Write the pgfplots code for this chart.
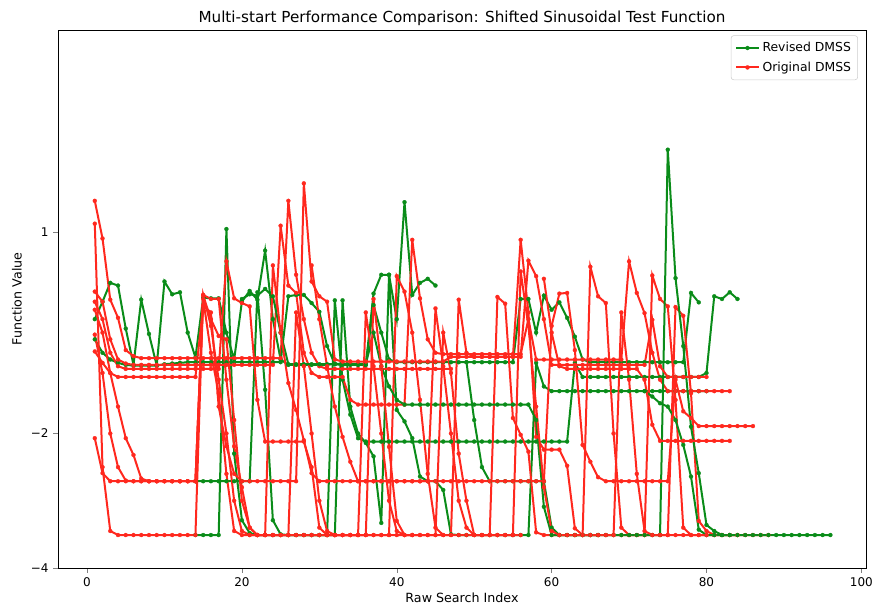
\documentclass[border=0pt]{standalone}
\usepackage{pgfplots}
\pgfplotsset{compat=1.18}
\usepackage{fontspec}
\setmainfont{DejaVu Sans}
\definecolor{mygreen}{RGB}{10,140,25}
\definecolor{myred}{RGB}{255,40,30}
\pgfplotsset{
  gstyle/.style={color=mygreen, line width=1.5pt, mark=*, mark size=1.5pt, mark options={solid, line width=0.2pt}},
  rstyle/.style={color=myred, line width=1.5pt, mark=*, mark size=1.5pt, mark options={solid, line width=0.2pt}},
}
\begin{document}
\begin{tikzpicture}
\begin{axis}[
  scale only axis, width=606pt, height=403.5pt,
  xmin=-3.75, xmax=100.6, ymin=-4, ymax=4,
  xtick={0,20,40,60,80,100}, ytick={-4,-2,1},
  yticklabels={−4,−2,1},
  tick align=outside, xtick pos=left, ytick pos=left,
  major tick length=3.5pt,
  tick label style={font=\fontsize{9}{10}\selectfont},
  /pgf/number format/assume math mode=true,
  title={Multi-start Performance Comparison: Shifted Sinusoidal Test Function},
  title style={font=\fontsize{11.4}{13}\selectfont, yshift=-6pt},
  xlabel={Raw Search Index}, ylabel={Function Value},
  label style={font=\fontsize{9.5}{11}\selectfont},
  xlabel style={yshift=2pt}, ylabel style={yshift=0pt},
  legend style={at={(0.99,0.99)}, anchor=north east, draw=black!20, rounded corners=2pt, font=\fontsize{9.3}{11}\selectfont, inner sep=3pt, row sep=2pt},
  legend cell align=left,
  axis line style={line width=0.6pt},
]
% ---------- Revised DMSS (green), lower tracks drawn first ----------
\addplot[gstyle, forget plot] coordinates {(14,-3.51)(15,-3.51)(16,-3.51)(17,-3.51)(18,1.04)(19,-2.3)(20,-3.29)(21,-3.48)(22,-3.51)(23,-3.51)(24,-3.51)(25,-3.51)(26,-3.51)(27,-3.51)(28,-3.51)(29,-3.51)(30,-3.51)(31,-3.51)(32,-0.02)(33,-1.2)(34,-1.72)(35,-2.07)(36,-2.12)(37,-2.12)(38,-2.12)(39,-2.12)(40,-2.12)(41,-2.12)(42,-2.12)(43,-2.12)(44,-2.12)(45,-2.12)(46,-2.12)(47,-2.12)(48,-2.12)(49,-2.12)(50,-2.12)(51,-2.12)(52,-2.12)(53,-2.12)(54,-2.12)(55,-2.12)(56,-2.12)(57,-2.12)(58,-2.12)(59,-2.12)(60,-2.12)(61,-2.12)(62,-2.12)(63,-0.95)(64,-1.16)(65,-1.16)(66,-1.16)(67,-1.16)(68,-1.16)(69,-1.16)(70,-1.16)(71,-1.16)(72,-1.16)(73,-1.16)(74,-1.16)(75,-1.16)(76,-1.16)(77,-1.16)(78,-1.16)(79,-1.16)(80,-1.1)(81,0.04)(82,0.0)(83,0.1)(84,0.0)};

\addplot[gstyle, forget plot] coordinates {(14,-2.71)(15,-2.71)(16,-2.71)(17,-2.71)(18,-2.71)(19,-2.71)(20,-2.71)(21,-2.71)(22,0.1)(23,-1.35)(24,-3.29)(25,-3.5)(26,-3.51)(27,-3.51)(28,-3.51)(29,-3.51)(30,-3.51)(31,-3.51)(32,-3.51)(33,-0.02)(34,-1.6)(35,-2.0)(36,-2.14)(37,-2.34)(38,-3.33)(39,0.36)(40,-1.65)(41,-1.82)(42,-2.07)(43,-2.64)(44,-2.71)(45,-2.71)(46,-2.84)(47,-3.5)(48,-3.51)(49,-3.51)(50,-3.51)(51,-3.51)(52,-3.51)(53,-3.51)(54,-3.51)(55,-3.51)(56,-3.51)(57,-3.51)(58,-0.95)(59,-1.3)(60,-1.37)(61,-1.37)(62,-1.37)(63,-1.37)(64,-1.37)(65,-1.37)(66,-1.37)(67,-1.37)(68,-1.37)(69,-1.37)(70,-1.37)(71,-1.37)(72,-1.37)(73,-1.37)(74,-1.37)(75,-1.37)(76,-1.37)(77,-1.37)(78,-1.37)(79,-1.37)(80,-1.37)};

\addplot[gstyle] coordinates {(1,-0.3)(2,-0.04)(3,0.24)(4,0.2)(5,-0.44)(6,-0.98)(7,-0.01)(8,-0.52)(9,-0.99)(10,0.26)(11,0.07)(12,0.1)(13,-0.5)(14,-0.87)(15,0.02)(16,0.01)(17,0.01)(18,-0.5)(19,-0.9)(20,-0.04)(21,0.12)(22,-0.01)(23,0.72)(24,-0.3)(25,-0.9)(26,-0.98)(27,-0.98)(28,-0.98)(29,-0.98)(30,-0.98)(31,-0.98)(32,-0.96)(33,-0.97)(34,-0.97)(35,-0.98)(36,-0.98)(37,0.08)(38,0.36)(39,0.36)(40,-0.3)(41,1.44)(42,0.06)(43,0.24)(44,0.3)(45,0.2)};
\addlegendentry{Revised DMSS}
% ---------- Original DMSS (red) ----------
\addplot[rstyle] coordinates {(1,1.46)(2,0.9)(3,-0.01)(4,-0.28)(5,-0.76)(6,-0.85)(7,-0.88)(8,-0.88)(9,-0.88)(10,-0.88)(11,-0.88)(12,-0.88)(13,-0.88)(14,-0.88)(15,-0.88)(16,-0.88)(17,-0.88)(18,-0.88)(19,-0.88)(20,-0.88)(21,-0.88)(22,-0.88)(23,-0.88)(24,-0.88)(25,-0.88)(26,1.46)(27,0.36)(28,-0.3)(29,-0.8)(30,-1.0)(31,-1.04)(32,-1.04)(33,-1.04)(34,-1.04)(35,-1.04)(36,-1.04)(37,-1.04)(38,-1.04)(39,-1.04)(40,-1.04)(41,-1.04)(42,-1.04)(43,-1.04)(44,-1.04)(45,-1.04)(46,-1.04)(47,-1.04)};
\addlegendentry{Original DMSS}

\addplot[gstyle, forget plot] coordinates {(1,-0.6)(2,-0.8)(3,-0.9)(4,-0.95)(5,-0.98)(6,-0.99)(7,-0.99)(8,-0.99)(9,-0.99)(10,-0.97)(11,-0.96)(12,-0.95)(13,-0.94)(14,-0.94)(15,-0.94)(16,-0.94)(17,-0.94)(18,-0.94)(19,-0.94)(20,-0.94)(21,-0.94)(22,-0.94)(23,-0.94)(24,-0.94)(25,-0.94)(26,0.04)(27,0.06)(28,0.06)(29,-0.06)(30,-0.19)(31,-0.7)(32,-0.97)(33,-0.98)(34,-0.98)(35,-0.98)(36,-0.98)(37,-0.09)(38,-0.5)(39,-0.9)(40,-0.94)(41,-0.94)(42,-0.94)(43,-0.94)(44,-0.94)(45,-0.94)(46,-0.94)(47,-0.94)(48,-0.94)(49,-0.94)(50,-0.94)(51,-0.94)(52,-0.94)(53,-0.94)(54,-0.94)(55,-0.94)(56,0.0)(57,0.0)(58,-0.5)(59,0.05)(60,-0.16)(61,-0.05)(62,-0.28)(63,-0.56)(64,-0.9)(65,-0.94)(66,-0.94)(67,-0.94)(68,-0.94)(69,-0.94)(70,-0.94)(71,-0.94)(72,-0.94)(73,-0.94)(74,-0.94)(75,-0.94)(76,-0.94)(77,-0.94)(78,0.09)(79,-0.05)};

\addplot[rstyle, forget plot] coordinates {(1,1.12)(2,-2.5)(3,-3.45)(4,-3.51)(5,-3.51)(6,-3.51)(7,-3.51)(8,-3.51)(9,-3.51)(10,-3.51)(11,-3.51)(12,-3.51)(13,-3.51)(14,-3.51)(15,0.06)(16,0.0)(17,0.0)(18,-1.2)(19,-2.19)(20,-2.8)(21,-3.4)(22,-3.51)(23,-3.51)(24,-3.51)(25,-3.51)(26,-3.51)(27,-3.51)(28,-3.51)(29,-3.51)(30,-3.51)(31,-3.51)(32,-3.51)(33,-3.51)(34,-3.51)(35,-3.51)(36,-3.51)(37,-3.51)(38,-3.51)(39,-3.51)(40,0.34)(41,0.11)(42,-0.5)(43,-1.5)(44,-2.6)(45,-3.4)(46,-3.51)(47,-3.51)(48,-3.51)(49,-3.51)(50,-3.51)(51,-3.51)(52,-3.51)(53,0.03)(54,-0.07)(55,-1.77)(56,-2.02)(57,-2.27)(58,-3.47)(59,-3.51)(60,-3.51)(61,-3.51)(62,-3.51)(63,-3.51)(64,-3.51)(65,0.48)(66,0.04)(67,-0.06)(68,-2.0)(69,-3.4)(70,-3.51)(71,-3.51)(72,-3.51)(73,-3.51)(74,-3.51)(75,-3.51)(76,-0.12)(77,-0.25)(78,-1.4)(79,-3.3)(80,-3.45)(81,-3.51)(82,-3.51)(83,-3.51)(84,-3.51)(85,-3.51)(86,-3.51)(87,-3.51)(88,-3.51)};

\addplot[rstyle, forget plot] coordinates {(1,0.11)(2,-0.04)(3,-0.6)(4,-0.9)(5,-0.96)(6,-0.98)(7,-0.98)(8,-0.98)(9,-0.98)(10,-0.98)(11,-0.98)(12,-0.98)(13,-0.98)(14,-0.98)(15,-0.98)(16,-0.98)(17,-0.98)(18,-0.98)(19,-0.98)(20,-0.98)(21,-0.98)(22,-0.98)(23,-0.98)(24,-0.98)(25,1.09)(26,0.2)(27,0.09)(28,-0.8)(29,-1.1)(30,-1.16)(31,-1.16)(32,-1.16)(33,-1.16)(34,-1.5)(35,-1.57)(36,-1.57)(37,-1.57)(38,-1.57)(39,-1.57)(40,-1.57)(41,-1.57)(42,0.88)(43,0.01)(44,-0.6)(45,-0.8)(46,-0.82)(47,-0.82)(48,-0.82)(49,-0.82)(50,-0.82)(51,-0.82)(52,-0.82)(53,-0.82)(54,-0.82)(55,-0.82)(56,-0.82)(57,-0.3)(58,-0.9)(59,-0.9)(60,-0.9)(61,-0.9)(62,-0.9)(63,-0.9)(64,-0.9)(65,-0.9)(66,-0.9)(67,-0.9)(68,-0.9)(69,-0.9)(70,0.56)(71,0.09)(72,-0.21)(73,-0.8)(74,-1.2)(75,-1.37)(76,-1.37)(77,-1.37)(78,-1.37)(79,-1.37)(80,-1.37)(81,-1.37)(82,-1.37)(83,-1.37)};

\addplot[rstyle, forget plot] coordinates {(1,-0.04)(2,-0.3)(3,-0.8)(4,-1.0)(5,-1.04)(6,-1.04)(7,-1.04)(8,-1.04)(9,-1.04)(10,-1.04)(11,-1.04)(12,-1.04)(13,-1.04)(14,-1.04)(15,-1.04)(16,-1.04)(17,-1.04)(18,0.56)(19,0.01)(20,-0.06)(21,-0.11)(22,-1.5)(23,-2.12)(24,-2.12)(25,-2.12)(26,-2.12)(27,-2.12)(28,-2.12)(29,-2.5)(30,-3.4)(31,-3.51)(32,-3.51)(33,-3.51)(34,-3.51)(35,-3.51)(36,-3.51)(37,-3.51)(38,-3.51)(39,-3.51)(40,-3.51)(41,-3.51)(42,-3.51)(43,-3.51)(44,-3.51)(45,-3.51)(46,-3.51)(47,-3.51)(48,-0.01)(49,-0.8)(50,-0.86)(51,-0.86)(52,-0.86)(53,-0.86)(54,-0.86)(55,-0.86)(56,0.88)(57,-0.2)(58,-2.05)(59,-2.24)(60,-2.24)(61,-2.24)(62,-2.48)(63,-3.41)(64,-3.51)(65,-3.51)(66,-3.51)(67,-3.51)(68,-3.51)(69,-3.51)(70,-3.51)(71,-3.51)(72,-3.51)(73,0.35)(74,0.0)(75,-0.11)(76,-1.5)(77,-3.4)(78,-3.51)(79,-3.51)(80,-3.51)(81,-3.51)(82,-3.51)(83,-3.51)(84,-3.51)};

\addplot[gstyle, forget plot] coordinates {(20,0.0)(21,0.07)(22,0.05)(23,0.15)(24,0.04)(25,-0.5)(26,-0.97)(27,-0.97)(28,-0.97)(29,-0.97)(30,-0.97)(31,-0.97)(32,-0.97)(33,-0.97)(34,-0.97)(35,-0.97)(36,-0.97)(37,-0.5)(38,-1.0)(39,-1.3)(40,-1.5)(41,-1.57)(42,-1.57)(43,-1.57)(44,-1.57)(45,-1.57)(46,-1.57)(47,-1.57)(48,-1.57)(49,-1.57)(50,-1.57)(51,-1.57)(52,-1.57)(53,-1.57)(54,-1.57)(55,-1.57)(56,-1.57)(57,-1.57)(58,-1.8)(59,-3.09)(60,-3.51)(61,-3.51)(62,-3.51)(63,-3.51)(64,-3.51)(65,-3.51)(66,-3.51)(67,-3.51)(68,-3.51)(69,-3.51)(70,-3.51)(71,-3.51)(72,-3.51)(73,-3.51)(74,-3.51)(75,2.22)(76,0.31)(77,-0.7)(78,-1.9)(79,-2.59)(80,-3.36)(81,-3.45)(82,-3.51)(83,-3.51)(84,-3.51)(85,-3.51)(86,-3.51)(87,-3.51)(88,-3.51)(89,-3.51)(90,-3.51)(91,-3.51)(92,-3.51)(93,-3.51)(94,-3.51)(95,-3.51)(96,-3.51)};

\addplot[rstyle, forget plot] coordinates {(1,-0.16)(2,-0.5)(3,-1.1)(4,-1.16)(5,-1.16)(6,-1.16)(7,-1.16)(8,-1.16)(9,-1.16)(10,-1.16)(11,-1.16)(12,-1.16)(13,-1.16)(14,-1.16)(15,-0.1)(16,-0.2)(17,-1.6)(18,-2.19)(19,-2.6)(20,-2.71)(21,-2.71)(22,-2.71)(23,-2.71)(24,-2.71)(25,-2.71)(26,-2.71)(27,-2.71)(28,1.72)(29,0.26)(30,0.04)(31,-0.04)(32,-0.9)(33,-0.93)(34,-0.93)(35,-0.93)(36,-0.93)(37,-0.93)(38,-0.93)(39,-0.93)(40,-0.93)(41,-0.93)(42,-0.93)(43,-0.93)(44,-0.93)(45,-0.93)(46,-0.93)(47,-0.86)(48,-0.86)(49,-0.86)(50,-0.86)(51,-0.86)(52,-0.86)(53,-0.86)(54,-0.86)(55,-0.86)(56,-0.86)(57,0.57)(58,0.34)(59,-0.3)(60,-0.98)(61,-0.98)(62,-0.98)(63,-0.98)(64,-0.98)(65,-0.98)(66,-0.98)(67,-0.98)(68,-0.98)(69,-0.98)(70,-0.98)(71,-0.98)(72,-0.98)(73,-0.31)(74,-1.0)(75,-1.16)(76,-1.16)(77,-1.16)(78,-1.16)(79,-1.16)(80,-1.16)};

\addplot[gstyle, forget plot] coordinates {(49,-0.94)(50,-1.8)(51,-2.5)(52,-2.71)(53,-2.71)(54,-2.71)(55,-2.71)(56,-2.71)(57,-2.71)(58,-2.71)(59,-2.71)(60,-3.4)(61,-3.51)(62,-3.51)(63,-3.51)(64,-3.51)(65,-3.51)(66,-3.51)};

\addplot[rstyle, forget plot] coordinates {(1,-0.53)(2,-1.1)(3,-2.0)(4,-2.5)(5,-2.7)(6,-2.71)(7,-2.71)(8,-2.71)(9,-2.71)(10,-2.71)(11,-2.71)(12,-2.71)(13,-2.71)(14,-2.71)(15,0.05)(16,-0.3)(17,-0.55)(18,-0.6)(19,-1.8)(20,-3.0)(21,-3.4)(22,-3.51)(23,-3.51)(24,-3.51)(25,-3.51)(26,-3.51)(27,-0.2)(28,-1.0)(29,-2.0)(30,-3.0)(31,-3.45)(32,-3.51)(33,-3.51)(34,-3.51)(35,-3.51)(36,-3.51)(37,0.0)(38,-1.0)(39,-2.2)(40,-3.3)(41,-3.51)(42,-3.51)};

\addplot[gstyle, forget plot] coordinates {(72,-1.37)(73,-1.45)(74,-1.55)(75,-1.6)(76,-1.8)(77,-2.17)(78,-2.64)(79,-3.43)(80,-3.51)(81,-3.51)(82,-3.51)(83,-3.51)};

\addplot[rstyle, forget plot] coordinates {(1,-2.07)(2,-2.59)(3,-2.71)(4,-2.71)(5,-2.71)(6,-2.71)(7,-2.71)(8,-2.71)(9,-2.71)(10,-2.71)(11,-2.71)(12,-2.71)(13,-2.71)(14,-2.71)(15,0.0)(16,-0.8)(17,-1.4)(18,-2.6)(19,-3.45)(20,-3.51)(21,-3.51)(22,-3.51)(23,-3.51)(24,0.5)(25,-0.5)(26,-1.25)(27,-1.65)(28,-2.1)(29,-2.59)(30,-2.71)(31,-2.71)(32,-2.71)(33,-2.71)(34,-2.71)(35,-2.71)(36,-2.71)(37,-2.71)(38,-2.71)(39,-2.71)(40,-2.71)(41,-2.71)(42,-2.71)(43,-2.71)(44,-2.71)(45,-0.14)(46,-1.0)(47,-2.0)(48,-3.0)(49,-3.4)(50,-3.51)(51,-3.51)(52,-3.51)(53,-3.51)(54,-3.51)(55,-3.51)(56,-3.51)};

\addplot[rstyle, forget plot] coordinates {(1,-0.78)(2,-0.95)(3,-1.1)(4,-1.6)(5,-2.07)(6,-2.32)(7,-2.67)(8,-2.71)(9,-2.71)(10,-2.71)(11,-2.71)(12,-2.71)(13,-2.71)(14,-2.71)(15,0.06)(16,-0.4)(17,-1.2)(18,-2.0)(19,-3.0)(20,-3.45)(21,-3.51)(22,-3.51)(23,-3.51)(24,-3.51)(25,-3.51)(26,-3.51)(27,-3.51)(28,-3.51)(29,-3.51)(30,-3.51)(31,-3.51)(32,-3.51)(33,-3.51)(34,-3.51)(35,-3.51)(36,-0.2)(37,-1.0)(38,-2.0)(39,-3.0)(40,-3.45)(41,-3.51)(42,-3.51)(43,-3.51)(44,-3.51)(45,-3.51)(46,-0.5)(47,-1.1)(48,-2.3)(49,-3.0)(50,-3.51)(51,-3.51)(52,-3.51)(53,-3.51)(54,-3.51)(55,-3.51)(56,0.41)(57,-0.4)(58,-1.6)(59,-2.8)(60,-3.45)(61,-3.51)(62,-3.51)(63,-3.51)(64,-3.51)(65,-3.51)(66,-3.51)(67,-3.51)(68,-3.51)(69,-0.2)(70,-1.2)(71,-2.6)(72,-3.45)(73,-3.51)(74,-3.51)(75,-3.51)(76,-3.51)(77,-3.51)(78,-3.51)(79,-3.51)(80,-3.51)};

\addplot[rstyle, forget plot] coordinates {(29,0.5)(30,-0.3)(31,-1.0)(32,-1.6)(33,-2.05)(34,-2.42)(35,-2.71)(36,-2.71)(37,-2.71)(38,-2.71)(39,-2.71)(40,-2.71)(41,-2.71)(42,-2.71)(43,-2.71)(44,-2.71)(45,-2.71)(46,-2.71)(47,-2.71)(48,-2.71)(49,-2.71)(50,-2.71)(51,-2.71)(52,-2.71)(53,-2.71)(54,-2.71)(55,-2.71)(56,-2.71)(57,-2.71)(58,-2.71)(59,-2.71)(60,-0.4)(61,0.08)(62,0.09)(63,-0.76)(64,-2.17)(65,-2.42)(66,-2.65)(67,-2.71)(68,-2.71)(69,-2.71)(70,-2.71)(71,-2.71)(72,-2.71)(73,-2.71)(74,-2.71)(75,-2.71)(76,-1.2)(77,-1.67)(78,-1.77)(79,-1.89)(80,-1.89)(81,-1.89)(82,-1.89)(83,-1.89)(84,-1.89)(85,-1.89)(86,-1.89)};

\addplot[rstyle, forget plot] coordinates {(59,0.3)(60,-0.5)(61,-1.0)(62,-1.04)(63,-1.04)(64,-1.04)(65,-1.04)(66,-1.04)(67,-1.04)(68,-1.04)(69,-1.04)(70,-1.04)(71,-1.04)(72,-1.2)(73,-1.87)(74,-2.11)(75,-2.11)(76,-2.11)(77,-2.11)(78,-2.11)(79,-2.11)(80,-2.11)(81,-2.11)(82,-2.11)(83,-2.11)};
\end{axis}
\path (current axis.south west) ++(-43.5pt,-34.5pt) rectangle ([xshift=9pt,yshift=22.5pt]current axis.north east);
\end{tikzpicture}
\end{document}
